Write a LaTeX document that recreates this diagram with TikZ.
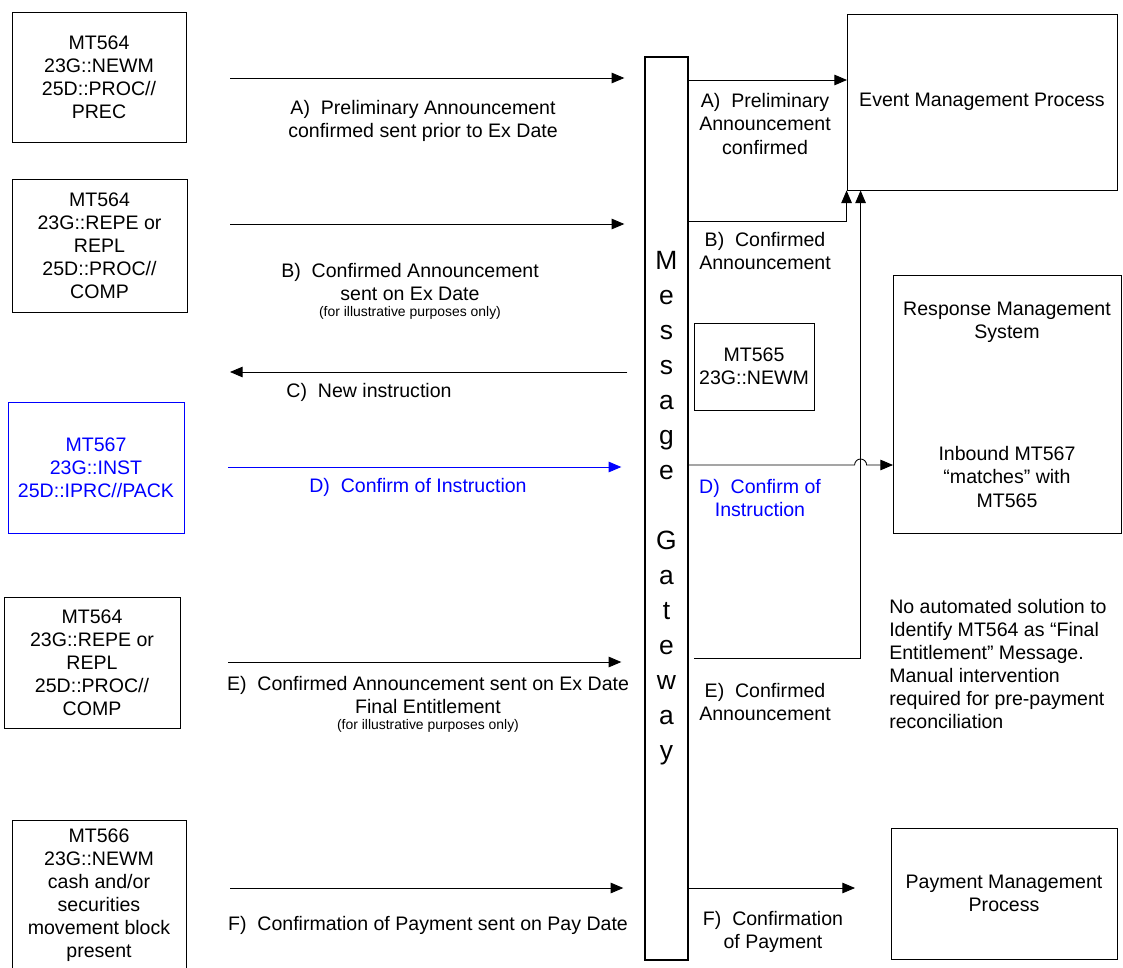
\documentclass[tikz,border=0pt]{standalone}
\usepackage{fontspec}
\setmainfont{Liberation Sans}
\usetikzlibrary{arrows.meta}
\usetikzlibrary{positioning}
\tikzset{
	msgbox/.style={
		rectangle,
		draw,
		line width=0.6pt,
		inner sep=0pt,
		align=center,
		font=\fontsize{13.9}{16.4}\selectfont,
	},
	procbox/.style={
		rectangle,
		draw,
		line width=0.6pt,
		inner sep=0pt,
		align=center,
		font=\fontsize{13.9}{16.4}\selectfont,
	},
	gateway/.style={
		rectangle,
		draw,
		line width=1pt,
		inner sep=0pt,
		align=center,
		font=\fontsize{18.8}{24.9}\selectfont,
	},
	lbl/.style={
		inner sep=0pt,
		align=center,
		font=\fontsize{13.9}{16.4}\selectfont,
	},
	hint/.style={
		inner sep=0pt,
		align=center,
		font=\fontsize{9.9}{11.5}\selectfont,
	},
	arrow/.style={
		-{Triangle[length=9pt,width=7.5pt]},
		line width=0.6pt,
	},
}

\begin{document}
\begin{tikzpicture}[x=0.025cm, y=-0.025cm]
		\newcommand{\px}{0.025cm}
		\useasboundingbox (0,0) rectangle (1123,967);

		% Message gateway
		\node[gateway, minimum width=43*\px, minimum height=903*\px] (gw) at (666.5,508.5) {M\\e\\s\\s\\a\\g\\e\\[24.9pt]G\\a\\t\\e\\w\\a\\y} ;

		% Messages on the left
		\node[msgbox, minimum width=174*\px, minimum height=130*\px] (mtA) at (99,77) {MT564\\23G::NEWM\\25D::PROC//\\PREC} ;
		\node[msgbox, minimum width=175*\px, minimum height=133*\px] (mtB) at (99.5,245.5) {MT564\\23G::REPE or\\REPL\\25D::PROC//\\COMP} ;
		\node[msgbox, blue, minimum width=176*\px, minimum height=131*\px] (mtD) at (96,467.5) {MT567\\23G::INST\\25D::IPRC//PACK} ;
		\node[msgbox, minimum width=176*\px, minimum height=131*\px] (mtE) at (92,662.5) {MT564\\23G::REPE or\\REPL\\25D::PROC//\\COMP} ;
		\node[msgbox, minimum width=174*\px, minimum height=150*\px] (mtF) at (99,895) {MT566\\23G::NEWM\\cash and/or\\securities\\movement block\\present} ;

		% Systems on the right
		\node[procbox, minimum width=270*\px, minimum height=176*\px] (evt) at (982,102) {Event Management Process} ;
		\node[procbox, minimum width=228*\px, minimum height=258*\px] (rsp) at (1007,404) {} ;
		\node[lbl] (rspT) at (1007,322) {Response Management\\System} ;
		\node[lbl] (rspM) at (1007,477) {Inbound MT567\\“matches” with\\MT565} ;
		\node[procbox, minimum width=226*\px, minimum height=131*\px] (pay) at (1004,893.5) {Payment Management\\Process} ;
		\node[msgbox, minimum width=120*\px, minimum height=87*\px] (mt565) at (754,366.5) {MT565\\23G::NEWM} ;
		\node[lbl, align=left, anchor=west] (manual) at (889,664) {No automated solution to\\Identify MT564 as “Final\\Entitlement” Message.\\Manual intervention\\required for pre-payment\\reconciliation} ;

		% Flow ends
		\coordinate (inA) at (230,78) ;
		\coordinate (inB) at (230,224) ;
		\coordinate (outC) at (230,372) ;
		\coordinate (inD) at (228,467) ;
		\coordinate (inE) at (228,662) ;
		\coordinate (inF) at (230,888) ;
		\coordinate (rA) at (847,80) ;
		\coordinate (rB) at (688,221) ;
		\coordinate (rD) at (893,465) ;
		\coordinate (rE) at (694,658) ;
		\coordinate (rF) at (855,888) ;
		\coordinate (eUp) at ([xshift=0.35cm]evt.south west) ;

		% Left flows
		\draw[arrow, shorten >=0.5cm] (inA) -- (inA -| gw.west) ;
		\draw[arrow, shorten >=0.5cm] (inB) -- (inB -| gw.west) ;
		\draw[arrow, shorten <=0.425cm] (outC -| gw.west) -- (outC) ;
		\draw[arrow, blue, shorten >=0.575cm] (inD) -- (inD -| gw.west) ;
		\draw[arrow, shorten >=0.575cm] (inE) -- (inE -| gw.west) ;
		\draw[arrow, shorten >=0.525cm] (inF) -- (inF -| gw.west) ;

		\node[lbl] (lblA) at (423,121) {A)~ Preliminary Announcement\\confirmed sent prior to Ex Date} ;
		\node[lbl] (lblB) at (410,282) {B)~ Confirmed Announcement\\sent on Ex Date} ;
		\node[hint, below=4pt of lblB] (hintB) {(for illustrative purposes only)} ;
		\node[lbl] (lblC) at (369,392) {C)~ New instruction} ;
		\node[lbl, blue] (lblD) at (418,487) {D)~ Confirm of Instruction} ;
		\node[lbl] (lblE) at (428,695) {E)~ Confirmed Announcement sent on Ex Date\\Final Entitlement} ;
		\node[hint, below=4pt of lblE] (hintE) {(for illustrative purposes only)} ;
		\node[lbl] (lblF) at (428,925) {F)~ Confirmation of Payment sent on Pay Date} ;

		% Right flows
		\draw[arrow] (gw.east |- rA) -- (rA) ;
		\draw[arrow] (gw.east |- rB) -| (evt.south west) ;
		\draw[arrow] (rE) -| (eUp) ;
		\draw[arrow] (gw.east |- rD) -- ([xshift=-0.15cm]eUp |- rD) arc[start angle=180, end angle=0, radius=0.15cm] -- (rD) ;
		\draw[arrow] (gw.east |- rF) -- (rF) ;

		\node[lbl] (outA) at (765,124) {A)~ Preliminary\\Announcement\\confirmed} ;
		\node[lbl] (outB) at (765,251) {B)~ Confirmed\\Announcement} ;
		\node[lbl, blue] (outD) at (760,498) {D)~ Confirm of\\Instruction} ;
		\node[lbl] (outE) at (765,702) {E)~ Confirmed\\Announcement} ;
		\node[lbl] (outF) at (773,932) {F)~ Confirmation\\of Payment} ;

	\end{tikzpicture}
\end{document}
